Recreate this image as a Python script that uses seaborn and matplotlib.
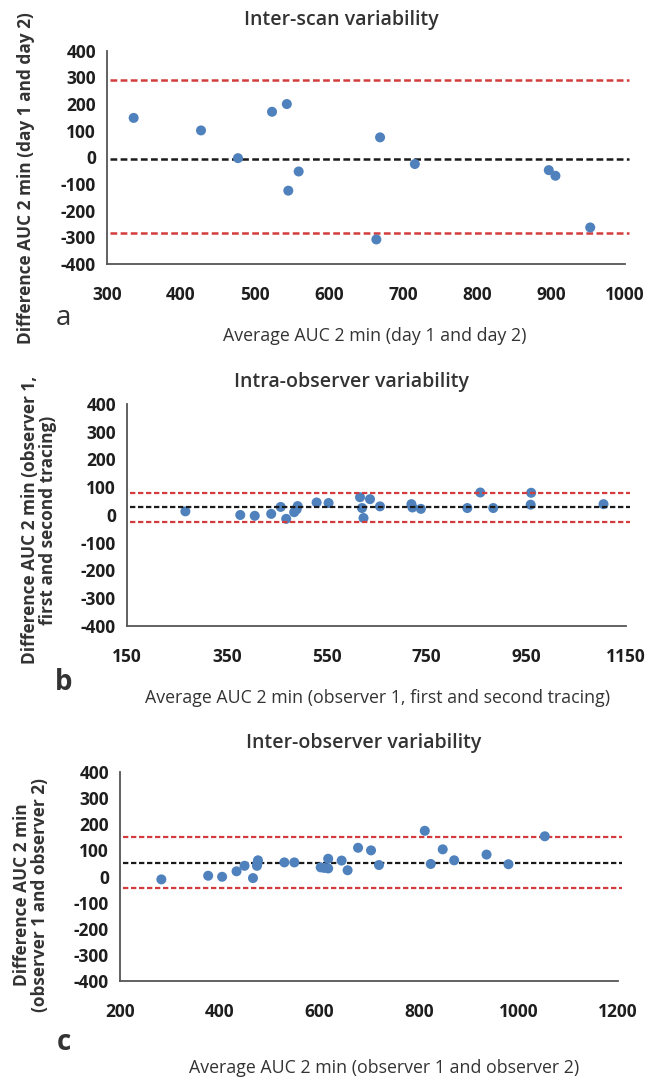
import matplotlib
matplotlib.use("Agg")
import matplotlib.pyplot as plt
import seaborn as sns
import pandas as pd

# Panel a: inter-scan variability
scan_avg = [336, 427, 477, 523, 543, 545, 559, 669, 664, 716, 897, 906, 953]
scan_diff = [148, 101, -3, 171, 200, -125, -53, 75, -308, -25, -48, -69, -263]
scan_lines = [291, -8, -284]  # upper LoA, mean, lower LoA

# Panel b: intra-observer variability
intra_avg = [267, 377, 406, 439, 458, 469, 485, 490, 492, 530, 554, 617, 621, 624,
             637, 657, 720, 722, 739, 832, 858, 884, 960, 959, 1105]
intra_diff = [13, 0, -3, 4, 29, -14, 10, 20, 32, 45, 43, 64, 25, -11,
              57, 31, 39, 27, 22, 25, 81, 25, 80, 37, 39]
intra_lines = [80, 28, -25]

# Panel c: inter-observer variability
inter_avg = [283, 377, 405, 434, 450, 467, 475, 476, 477, 530, 550, 603, 610, 618,
             618, 645, 657, 678, 704, 720, 812, 824, 848, 871, 936, 980, 1053]
inter_diff = [-11, 3, -1, 20, 41, -6, 41, 51, 62, 54, 54, 35, 33, 68,
              31, 61, 24, 110, 100, 44, 175, 48, 104, 62, 84, 47, 154]
inter_lines = [152, 52, -43]

y_ticks = [-400, -300, -200, -100, 0, 100, 200, 300, 400]

panels = [
    dict(x=scan_avg, y=scan_diff, lines=scan_lines, xlim=(300, 1000), xstep=100,
         rect=[0.1654, 0.7549, 0.8006, 0.198], lw=1.8, dash=(2.7, 1.35), line_z=2,
         title="Inter-scan variability", title_xy=(341, 20),
         xlabel="Average AUC 2 min (day 1 and day 2)", xlabel_xy=(375, 336),
         ylabel="Difference AUC 2 min (day 1 and day 2)", ylabel_xy=(26, 178),
         letter="a", letter_xy=(63, 318), letter_bold=False),
    dict(x=intra_avg, y=intra_diff, lines=intra_lines, xlim=(150, 1150), xstep=200,
         rect=[0.1963, 0.4188, 0.7712, 0.2061], lw=1.6, dash=(2.4, 1.2), line_z=4,
         title="Intra-observer variability", title_xy=(352, 382),
         xlabel="Average AUC 2 min (observer 1, first and second tracing)", xlabel_xy=(378, 698),
         ylabel="Difference AUC 2 min (observer 1,\nfirst and second tracing)", ylabel_xy=(39, 520),
         letter="b", letter_xy=(64, 683), letter_bold=True),
    dict(x=inter_avg, y=inter_diff, lines=inter_lines, xlim=(200, 1200), xstep=200,
         rect=[0.1855, 0.0891, 0.7697, 0.1941], lw=1.6, dash=(2.4, 1.2), line_z=2,
         title="Inter-observer variability", title_xy=(364, 743),
         xlabel="Average AUC 2 min (observer 1 and observer 2)", xlabel_xy=(384, 1068),
         ylabel="Difference AUC 2 min\n(observer 1 and observer 2)", ylabel_xy=(31, 895),
         letter="c", letter_xy=(64, 1043), letter_bold=True),
]

sns.set_theme(style="white")
plt.rcParams["font.family"] = ["Open Sans", "DejaVu Sans"]
plt.rcParams["axes.unicode_minus"] = False

W, H = 647, 1077
fig = plt.figure(figsize=(W / 100, H / 100), dpi=100)

point_color = "#4F81BD"
red = "#D23C3C"
axis_color = "#555555"
text_color = "#333333"

for p in panels:
    ax = fig.add_axes(p["rect"])
    df = pd.DataFrame({"avg": p["x"], "diff": p["y"]})
    sns.scatterplot(data=df, x="avg", y="diff", ax=ax, color=point_color,
                    s=52, edgecolor="none", zorder=3)
    upper, mean, lower = p["lines"]
    for val, col in [(upper, red), (mean, "#1A1A1A"), (lower, red)]:
        ax.axhline(val, xmin=0.006, xmax=1.008, color=col, lw=p["lw"],
                   dashes=p["dash"], clip_on=False, zorder=p["line_z"])

    ax.set_xlim(*p["xlim"])
    ax.set_ylim(-400, 400)
    ax.set_xticks(range(p["xlim"][0], p["xlim"][1] + 1, p["xstep"]))
    ax.set_yticks(y_ticks)
    ax.set_xlabel("")
    ax.set_ylabel("")
    for side in ["top", "right"]:
        ax.spines[side].set_visible(False)
    for side in ["left", "bottom"]:
        ax.spines[side].set_color(axis_color)
        ax.spines[side].set_linewidth(1.3)
    ax.tick_params(axis="both", direction="out", length=5, width=1.3,
                   color=axis_color, labelsize=12.5, labelcolor="#1E1E1E", pad=3)
    ax.tick_params(axis="x", pad=11)
    for lab in ax.get_xticklabels() + ax.get_yticklabels():
        lab.set_fontweight("bold")

    tx, ty = p["title_xy"]
    fig.text(tx / W, 1 - ty / H, p["title"], ha="center", va="center",
             fontsize=14, fontweight="semibold", color=text_color)
    lx, ly = p["xlabel_xy"]
    fig.text(lx / W, 1 - ly / H, p["xlabel"], ha="center", va="center",
             fontsize=12.8, color=text_color)
    yx, yy = p["ylabel_xy"]
    fig.text(yx / W, 1 - yy / H, p["ylabel"], ha="center", va="center",
             rotation=90, fontsize=12.4, fontweight="bold", color=text_color,
             linespacing=1.0, multialignment="center")
    cx, cy = p["letter_xy"]
    fig.text(cx / W, 1 - cy / H, p["letter"], ha="center", va="center",
             fontsize=20, fontweight="bold" if p["letter_bold"] else "normal",
             color=text_color)

fig.savefig("out.png", dpi=100)
